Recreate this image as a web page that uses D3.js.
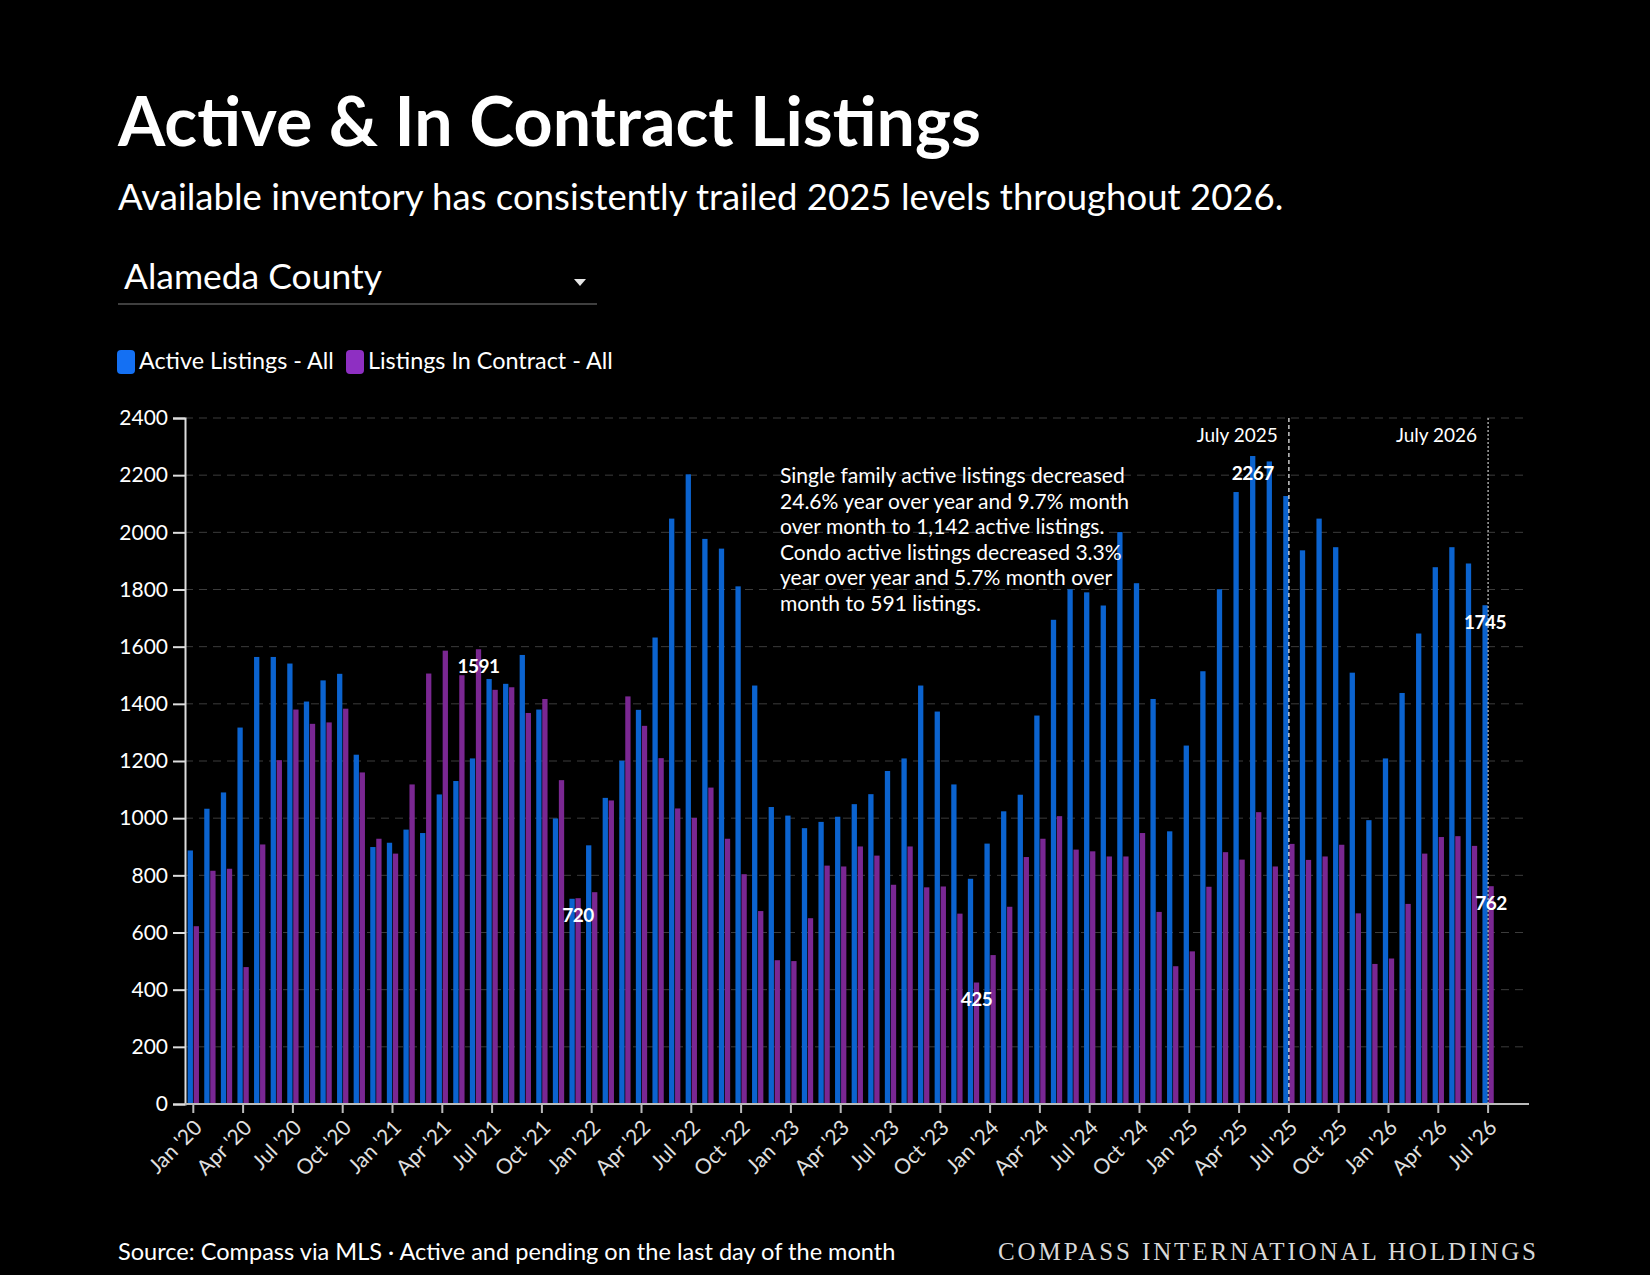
<!DOCTYPE html>
<html>
<head>
<meta charset="utf-8">
<script src="https://cdn.jsdelivr.net/npm/d3@7"></script>
<style>
  body { margin: 0; background: #000; }
  svg { display: block; }
</style>
</head>
<body>
<div id="chart"></div>
<script>
// Monthly data, Jan 2020 - Jul 2026
let months = [
  "2020-01","2020-02","2020-03","2020-04","2020-05","2020-06","2020-07","2020-08","2020-09","2020-10","2020-11","2020-12",
  "2021-01","2021-02","2021-03","2021-04","2021-05","2021-06","2021-07","2021-08","2021-09","2021-10","2021-11","2021-12",
  "2022-01","2022-02","2022-03","2022-04","2022-05","2022-06","2022-07","2022-08","2022-09","2022-10","2022-11","2022-12",
  "2023-01","2023-02","2023-03","2023-04","2023-05","2023-06","2023-07","2023-08","2023-09","2023-10","2023-11","2023-12",
  "2024-01","2024-02","2024-03","2024-04","2024-05","2024-06","2024-07","2024-08","2024-09","2024-10","2024-11","2024-12",
  "2025-01","2025-02","2025-03","2025-04","2025-05","2025-06","2025-07","2025-08","2025-09","2025-10","2025-11","2025-12",
  "2026-01","2026-02","2026-03","2026-04","2026-05","2026-06","2026-07"
];

let activeListings = [
  887, 1033, 1090, 1317, 1564, 1564, 1541, 1408, 1482, 1505, 1222, 899,
  914, 960, 948, 1083, 1130, 1209, 1487, 1470, 1571, 1380, 999, 718,
  905, 1071, 1201, 1379, 1632, 2048, 2203, 1977, 1943, 1811, 1464, 1039,
  1009, 965, 987, 1005, 1049, 1084, 1165, 1209, 1464, 1373, 1118, 788,
  911, 1024, 1082, 1359, 1694, 1801, 1790, 1744, 2001, 1822, 1417, 954,
  1254, 1514, 1801, 2141, 2267, 2248, 2127, 1937, 2048, 1948, 1509, 993,
  1209, 1438, 1646, 1878, 1948, 1891, 1745
];

let inContract = [
  622, 816, 823, 479, 908, 1203, 1380, 1330, 1335, 1383, 1160, 928,
  876, 1118, 1506, 1586, 1500, 1591, 1449, 1458, 1368, 1417, 1133, 720,
  741, 1062, 1426, 1323, 1210, 1034, 1001, 1107, 928, 804, 675, 503,
  500, 650, 834, 831, 901, 869, 767, 901, 758, 761, 666, 425,
  521, 690, 864, 928, 1007, 890, 884, 866, 866, 948, 672, 482,
  534, 760, 881, 855, 1021, 831, 910, 854, 866, 907, 667, 490,
  509, 700, 876, 934, 937, 903, 762
];

let seriesKeys = ["active", "contract"];
let seriesNames = ["Active Listings - All", "Listings In Contract - All"];

let tickMonths = [
  "2020-01","2020-04","2020-07","2020-10","2021-01","2021-04","2021-07","2021-10",
  "2022-01","2022-04","2022-07","2022-10","2023-01","2023-04","2023-07","2023-10",
  "2024-01","2024-04","2024-07","2024-10","2025-01","2025-04","2025-07","2025-10",
  "2026-01","2026-04","2026-07"
];
let tickLabels = [
  "Jan '20","Apr '20","Jul '20","Oct '20","Jan '21","Apr '21","Jul '21","Oct '21",
  "Jan '22","Apr '22","Jul '22","Oct '22","Jan '23","Apr '23","Jul '23","Oct '23",
  "Jan '24","Apr '24","Jul '24","Oct '24","Jan '25","Apr '25","Jul '25","Oct '25",
  "Jan '26","Apr '26","Jul '26"
];
let yTicks = [0, 200, 400, 600, 800, 1000, 1200, 1400, 1600, 1800, 2000, 2200, 2400];

// labelled bars: [month, series]
let labelledBars = [
  ["2021-06", "contract"], ["2021-12", "contract"], ["2023-12", "contract"],
  ["2025-05", "active"], ["2026-07", "active"], ["2026-07", "contract"]
];

let refMonths = ["2025-07", "2026-07"];
let refLabels = ["July 2025", "July 2026"];

let noteLines = [
  "Single family active listings decreased",
  "24.6% year over year and 9.7% month",
  "over month to 1,142 active listings.",
  "Condo active listings decreased 3.3%",
  "year over year and 5.7% month over",
  "month to 591 listings."
];

let colors = { active: "#0b63cf", contract: "#7a2792" };
let legendColors = { active: "#1470f3", contract: "#8e2fc2" };
let font = "Lato, 'Open Sans', sans-serif";

const W = 1650, H = 1275;
const plotLeft = 185, plotRight = 1529, plotTop = 418, plotBottom = 1104;

let svg = d3.select("#chart").append("svg")
  .attr("width", W).attr("height", H)
  .style("background", "#000");

// stretch a text to a target width by changing its font size
function fitWidth(sel, w) {
  let fs = parseFloat(sel.attr("font-size"));
  let cur = sel.node().getComputedTextLength();
  if (cur > 0) sel.attr("font-size", fs * w / cur);
}

// Header
let title = svg.append("text")
  .attr("x", 118).attr("y", 146)
  .attr("font-family", font).attr("font-weight", 700).attr("font-size", 64)
  .attr("fill", "#fff").text("Active & In Contract Listings");
fitWidth(title, 863);

let subtitle = svg.append("text")
  .attr("x", 118).attr("y", 210)
  .attr("font-family", font).attr("font-size", 32)
  .attr("fill", "#fff").text("Available inventory has consistently trailed 2025 levels throughout 2026.");
fitWidth(subtitle, 1166);

// dropdown look-alike
let dd = svg.append("text")
  .attr("x", 124).attr("y", 289)
  .attr("font-family", font).attr("font-size", 32)
  .attr("fill", "#fff").text("Alameda County");
fitWidth(dd, 258);
svg.append("path")
  .attr("d", "M574,279 L586,279 L580,286 Z")
  .attr("fill", "#e6e6e6");
svg.append("line")
  .attr("x1", 118).attr("x2", 597).attr("y1", 304).attr("y2", 304)
  .attr("stroke", "#555").attr("stroke-width", 1.5);

// Legend
let legendX = [117, 346];
let legendW = [195, 245];
seriesKeys.forEach((k, i) => {
  svg.append("rect")
    .attr("x", legendX[i]).attr("y", 350)
    .attr("width", 18).attr("height", 24).attr("rx", 4)
    .attr("fill", legendColors[k]);
  let t = svg.append("text")
    .attr("x", legendX[i] + 22).attr("y", 369)
    .attr("font-family", font).attr("font-size", 21)
    .attr("fill", "#fff").text(seriesNames[i]);
  fitWidth(t, legendW[i]);
});

// Scales
let x0 = d3.scaleBand()
  .domain(months)
  .range([plotLeft, plotLeft + months.length * 16.6])
  .paddingInner(0).paddingOuter(0);

let x1 = d3.scaleBand()
  .domain(seriesKeys)
  .range([0, x0.bandwidth()])
  .paddingInner(0.12).paddingOuter(0.44);

let y = d3.scaleLinear().domain([0, 2400]).range([plotBottom, plotTop]);

// Grid
svg.append("g").selectAll("line")
  .data(yTicks.filter(d => d > 0))
  .join("line")
  .attr("x1", plotLeft).attr("x2", plotRight)
  .attr("y1", d => y(d)).attr("y2", d => y(d))
  .attr("stroke", "#3c3c3c").attr("stroke-width", 1)
  .attr("stroke-dasharray", "8,6");

// Bars
let rows = months.map((m, i) => ({ month: m, active: activeListings[i], contract: inContract[i] }));

svg.append("g").selectAll("g")
  .data(rows)
  .join("g")
  .attr("transform", d => `translate(${x0(d.month)},0)`)
  .selectAll("rect")
  .data(d => seriesKeys.map(k => ({ key: k, value: d[k] })))
  .join("rect")
  .attr("x", d => x1(d.key))
  .attr("width", x1.bandwidth())
  .attr("y", d => y(d.value))
  .attr("height", d => y(0) - y(d.value))
  .attr("fill", d => colors[d.key]);

// Reference lines
refMonths.forEach((m, i) => {
  let xm = x0(m) + x0.bandwidth() / 2;
  svg.append("line")
    .attr("x1", xm).attr("x2", xm).attr("y1", plotTop).attr("y2", plotBottom)
    .attr("stroke", i == 0 ? "#e8e8e8" : "#bbb")
    .attr("stroke-width", 1.3)
    .attr("stroke-dasharray", i == 0 ? "4,3" : "2,2");
  svg.append("text")
    .attr("x", xm - 11).attr("y", 442)
    .attr("text-anchor", "end")
    .attr("font-family", font).attr("font-size", 19)
    .attr("fill", "#fff").text(refLabels[i]);
});

// Axes
let yAxis = d3.axisLeft(y).tickValues(yTicks).tickFormat(d3.format("d"))
  .tickSize(12).tickPadding(5);
let gy = svg.append("g").attr("transform", `translate(${plotLeft},0)`).call(yAxis);
gy.select(".domain").attr("stroke", "#ddd").attr("stroke-width", 2);
gy.selectAll(".tick line").attr("stroke", "#ddd").attr("stroke-width", 2);
gy.selectAll(".tick text")
  .attr("fill", "#fff").attr("font-family", font).attr("font-size", 21);

let xAxis = d3.axisBottom(x0)
  .tickValues(tickMonths)
  .tickFormat(d => tickLabels[tickMonths.indexOf(d)])
  .tickSize(9).tickSizeOuter(0);
let gx = svg.append("g").attr("transform", `translate(0,${plotBottom})`).call(xAxis);
gx.select(".domain").attr("d", `M${plotLeft},0H${plotRight}`).attr("stroke", "#bbb").attr("stroke-width", 2);
gx.selectAll(".tick line").attr("stroke", "#bbb").attr("stroke-width", 2);
gx.selectAll(".tick text")
  .attr("fill", "#e0e0e0").attr("font-family", font).attr("font-size", 21)
  .attr("text-anchor", "end")
  .attr("x", 0).attr("y", 0).attr("dy", 0)
  .attr("transform", "translate(10,25) rotate(-45)");

// Value labels
labelledBars.forEach(([m, k]) => {
  let i = months.indexOf(m);
  let v = k == "active" ? activeListings[i] : inContract[i];
  svg.append("text")
    .attr("x", x0(m) + x1(k) + x1.bandwidth() / 2)
    .attr("y", y(v) + 17)
    .attr("dy", "0.35em")
    .attr("text-anchor", "middle")
    .attr("font-family", font).attr("font-weight", 700).attr("font-size", 19)
    .attr("letter-spacing", -0.5)
    .attr("fill", "#fff").text(v);
});

// Annotation
let note = svg.append("text")
  .attr("font-family", font).attr("font-size", 19).attr("fill", "#fff");
note.selectAll("tspan")
  .data(noteLines)
  .join("tspan")
  .attr("x", 780)
  .attr("y", (d, i) => 483 + i * 25.5)
  .text(d => d);
let firstLine = note.select("tspan");
let lw = firstLine.node().getComputedTextLength();
note.attr("font-size", 19 * 345 / lw);

// Footer
let src = svg.append("text")
  .attr("x", 118).attr("y", 1260)
  .attr("font-family", font).attr("font-size", 21)
  .attr("fill", "#fff").text("Source: Compass via MLS \u00b7 Active and pending on the last day of the month");
fitWidth(src, 778);

svg.append("text")
  .attr("x", 998).attr("y", 1260)
  .attr("font-family", "'Liberation Serif', 'DejaVu Serif', serif").attr("font-size", 25)
  .attr("fill", "#d8d8d8")
  .attr("textLength", 538).attr("lengthAdjust", "spacing")
  .text("COMPASS INTERNATIONAL HOLDINGS");
</script>
</body>
</html>
